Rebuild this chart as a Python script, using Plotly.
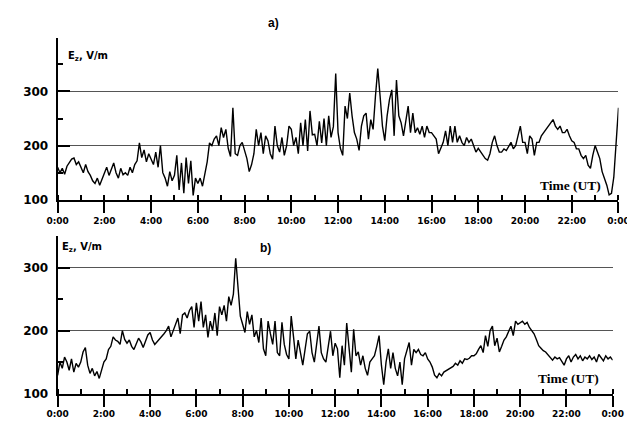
import plotly.graph_objects as go

# ---------------- data (6-minute samples, hours 0..24) ----------------
step_h = 0.1
ez_a = [
    160,150,158,147,162,168,175,177,165,170,   # 0h
    158,150,165,152,145,135,130,140,127,138,   # 1h
    150,160,145,157,168,150,140,158,146,150,   # 2h
    145,160,150,165,172,205,178,192,170,185,   # 3h
    175,165,188,160,200,150,140,125,152,135,   # 4h
    145,182,118,168,112,178,130,172,108,140,   # 5h
    130,140,125,145,170,205,200,212,218,200,   # 6h
    233,215,230,195,180,270,185,182,200,206,   # 7h
    192,176,152,165,185,230,200,224,185,218,   # 8h
    209,185,175,236,200,188,215,182,200,236,   # 9h
    230,200,215,185,242,200,248,190,264,220,   # 10h
    221,200,245,205,250,200,255,215,235,333,   # 11h
    224,195,182,273,250,297,255,224,212,191,   # 12h
    236,255,260,212,248,230,291,342,291,236,   # 13h
    209,255,285,303,218,321,255,242,218,248,   # 14h
    273,224,260,224,233,221,236,215,236,224,   # 15h
    224,218,212,185,197,206,227,200,236,206,   # 16h
    236,206,218,206,200,215,206,212,200,188,   # 17h
    195,188,182,176,173,185,206,218,200,188,   # 18h
    188,194,191,200,206,194,200,218,236,206,   # 19h
    206,185,218,212,182,206,206,218,224,230,   # 20h
    236,242,248,236,230,236,224,224,230,218,   # 21h
    209,206,194,194,182,176,182,164,158,182,   # 22h
    200,188,176,152,139,127,109,112,142,212,   # 23h
    270,
]
ez_b = [
    129,150,140,158,150,137,155,134,148,142,   # 0h
    150,166,173,145,132,140,128,135,124,138,   # 1h
    150,155,170,175,190,185,183,178,200,186,   # 2h
    180,185,175,170,180,188,182,173,183,193,   # 3h
    197,185,178,182,186,190,195,200,207,190,   # 4h
    200,210,220,195,225,228,220,232,238,205,   # 5h
    244,215,246,205,225,189,215,200,228,192,   # 6h
    238,225,240,215,254,240,258,315,265,223,   # 7h
    210,197,230,210,225,190,200,181,220,171,   # 8h
    160,215,195,178,215,165,160,213,178,162,   # 9h
    155,223,190,155,185,165,145,170,195,199,   # 10h
    165,150,175,207,165,155,150,175,199,160,   # 11h
    180,171,125,176,145,212,171,134,202,160,   # 12h
    166,145,160,140,129,150,155,160,175,192,   # 13h
    145,114,150,171,140,165,140,128,150,114,   # 14h
    155,170,181,145,170,165,170,162,160,165,   # 15h
    155,150,142,129,125,132,128,134,136,138,   # 16h
    140,143,148,145,152,148,155,154,156,160,   # 17h
    160,163,170,176,165,192,175,200,207,176,   # 18h
    188,166,175,185,190,200,207,192,215,210,   # 19h
    212,215,210,213,205,200,195,186,176,172,   # 20h
    168,166,162,158,153,158,155,157,150,145,   # 21h
    155,160,150,158,162,155,160,152,158,155,   # 22h
    160,154,158,150,162,156,152,160,155,158,   # 23h
    153,
]
time_a = [round(i * step_h, 2) for i in range(len(ez_a))]
time_b = [round(i * step_h, 2) for i in range(len(ez_b))]

# tick labels for the hour axis (positions 0,2,...,24)
x_tick_labels = {str(h): ("0:00" if h == 24 else f"{h}:00") for h in range(0, 25, 2)}

W, H = 635, 424

fig = go.Figure()
fig.add_trace(go.Scatter(x=time_a, y=ez_a, mode="lines",
                         line=dict(color="black", width=1.4),
                         xaxis="x", yaxis="y", hoverinfo="skip"))
fig.add_trace(go.Scatter(x=time_b, y=ez_b, mode="lines",
                         line=dict(color="black", width=1.4),
                         xaxis="x2", yaxis="y2", hoverinfo="skip"))

xfont = dict(family="DejaVu Sans", size=9, color="black", weight="bold")
yfont = dict(family="DejaVu Sans", size=12, color="black", weight="bold")


def xaxis_cfg(x0, x1, anchor):
    return dict(domain=[x0 / W, x1 / W], anchor=anchor, range=[0, 24],
                tickmode="linear", tick0=0, dtick=2, labelalias=x_tick_labels,
                ticks="outside", ticklen=11, tickwidth=2, tickcolor="black",
                showline=True, linewidth=2, linecolor="black",
                showgrid=False, zeroline=False, tickfont=xfont,
                ticklabeloverflow="allow",
                minor=dict(tick0=0, dtick=1, ticks="inside",
                           ticklen=5, tickwidth=2, tickcolor="black", showgrid=False))


def yaxis_cfg(ytop, ybot, anchor, rng):
    return dict(domain=[1 - ybot / H, 1 - ytop / H], anchor=anchor, range=rng,
                tickmode="linear", tick0=0, dtick=100,
                ticks="inside", ticklen=12, tickwidth=2, tickcolor="black",
                showline=True, linewidth=2, linecolor="black",
                showgrid=True, gridcolor="#555555", gridwidth=1,
                zeroline=False, tickfont=yfont, ticklabelstandoff=5,
                minor=dict(tick0=0, dtick=50, ticks="inside",
                           ticklen=5, tickwidth=2, tickcolor="black", showgrid=False))


fig.update_layout(
    width=W, height=H,
    margin=dict(l=0, r=0, t=0, b=0),
    paper_bgcolor="white", plot_bgcolor="white",
    showlegend=False,
    xaxis=xaxis_cfg(40, 621, "y"),
    yaxis=yaxis_cfg(30, 195, "x", [100, 399.5]),
    xaxis2=xaxis_cfg(40, 615, "y2"),
    yaxis2=yaxis_cfg(232, 392, "x2", [100, 350]),
)

lab_font = dict(family="DejaVu Sans", size=10, color="black", weight="bold")
panel_font = dict(family="Liberation Sans", size=12, color="black", weight="bold")
time_font = dict(family="Liberation Serif", size=13.5, color="black", weight="bold")


def ann(text, px, py, font, xanchor="center"):
    fig.add_annotation(text=text, x=px / W, y=1 - py / H, xref="paper", yref="paper",
                       showarrow=False, font=font, xanchor=xanchor, yanchor="middle")


ann("E<sub>z</sub>, V/m", 49, 49, lab_font, "left")
ann("a)", 264, 15, panel_font)
ann("Time (UT)", 571, 180, time_font)
ann("E<sub>z</sub>, V/m", 42, 244, lab_font, "left")
ann("b)", 255, 244, panel_font)
ann("Time (UT)", 569, 377, time_font)

fig.write_html("out.html")
